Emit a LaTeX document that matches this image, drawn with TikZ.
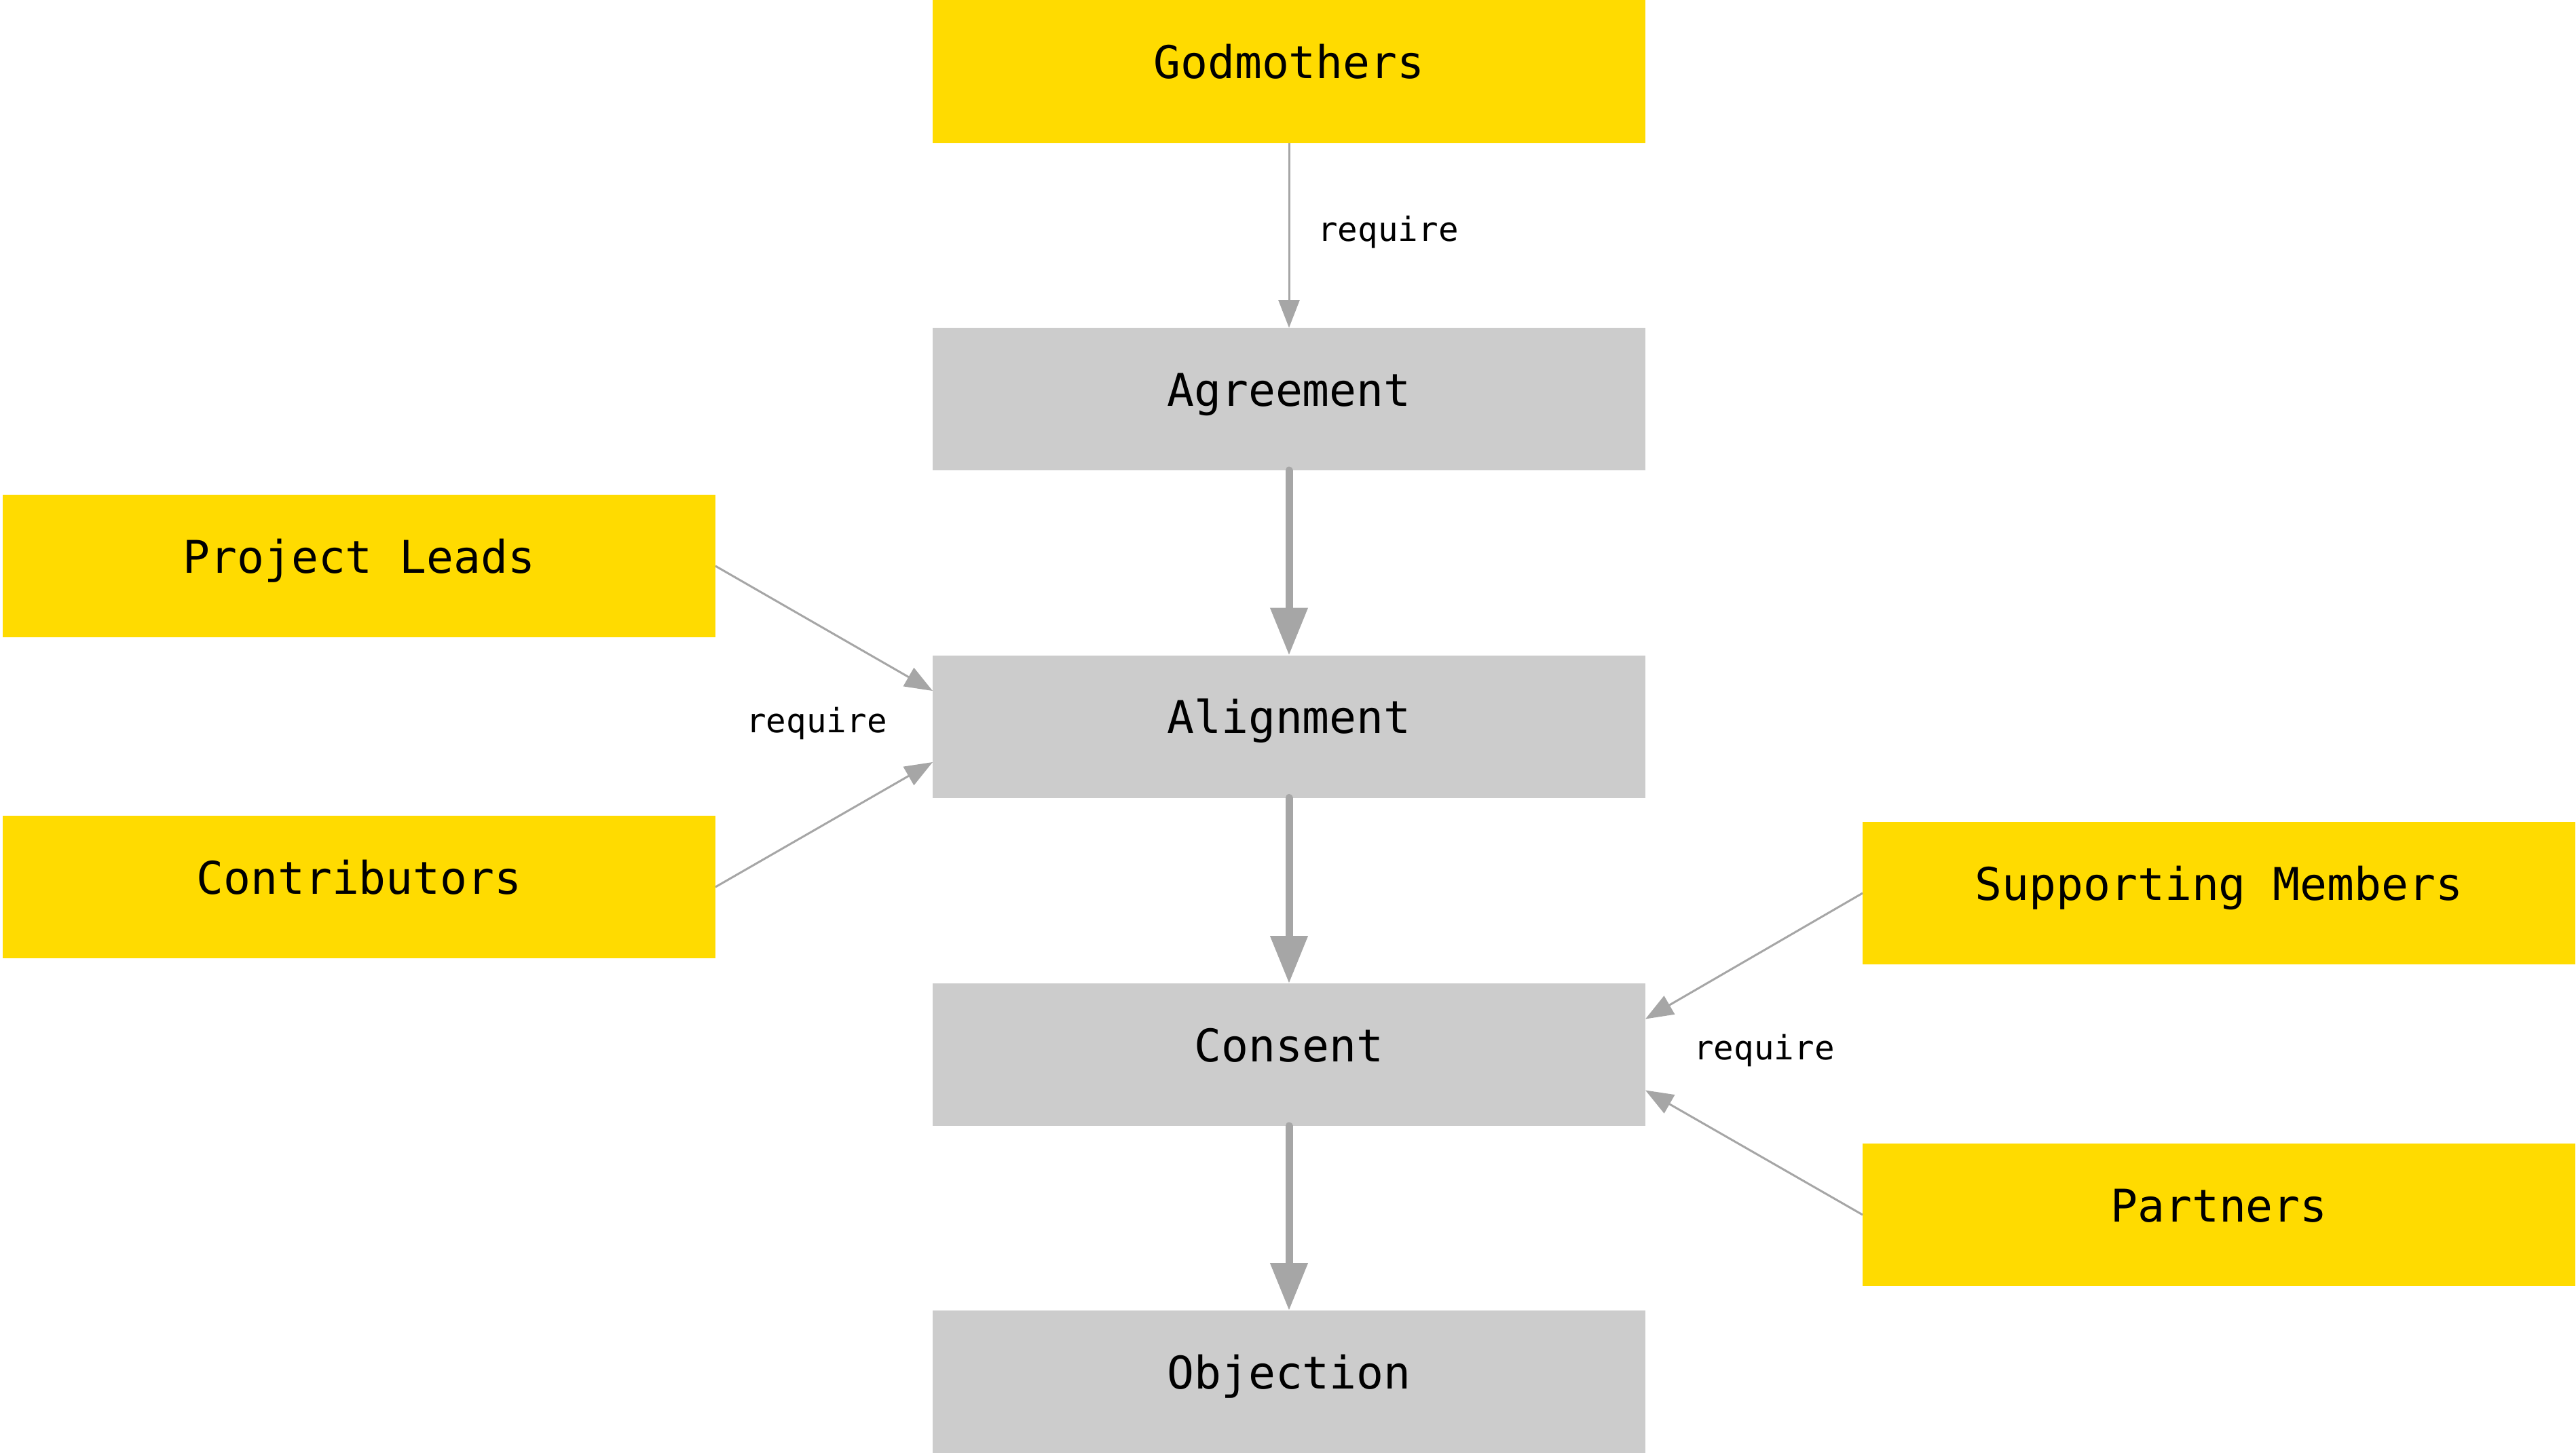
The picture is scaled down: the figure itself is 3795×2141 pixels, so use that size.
\documentclass[tikz,border=0pt]{standalone}
\usepackage{fontspec}
\setmonofont{DejaVu Sans Mono}
\usetikzlibrary{arrows.meta,calc}
\definecolor{boxyellow}{RGB}{255,219,0}
\definecolor{boxgray}{RGB}{204,204,204}
\definecolor{arrowgray}{RGB}{166,166,166}
\begin{document}
\begin{tikzpicture}[x=0.25pt,y=-0.25pt,
  box/.style={rectangle, minimum width=262.5pt, minimum height=52.5pt, inner sep=0pt, outer sep=0pt,
    font=\fontsize{16.6}{20}\selectfont\ttfamily, text height=12pt, text depth=7pt},
  ybox/.style={box, fill=boxyellow},
  gbox/.style={box, fill=boxgray},
  reqarrow/.style={draw=arrowgray, line width=0.75pt, -{Triangle[length=10.25pt,width=7.75pt]}},
  flowarrow/.style={draw=arrowgray, line width=2.75pt, line cap=round, -{Triangle[length=17.5pt,width=13.25pt]}},
  reqlabel/.style={font=\fontsize{12.3}{14}\selectfont\ttfamily, inner sep=0pt, anchor=base}
]
\useasboundingbox (0,0) rectangle (3795,2141);

% central column
\node[ybox] (gm) at (1899,105.5) {Godmothers};
\node[gbox] (ag) at (1899,588) {Agreement};
\node[gbox] (al) at (1899,1070.5) {Alignment};
\node[gbox] (co) at (1899,1554) {Consent};
\node[gbox] (ob) at (1899,2036) {Objection};

% left
\node[ybox] (pl) at (529,834) {Project Leads};
\node[ybox] (ct) at (529,1307) {Contributors};

% right
\node[ybox] (sm) at (3269,1316) {Supporting Members};
\node[ybox] (pa) at (3269,1790) {Partners};

% labels
\node[reqlabel] (lab1) at (2045,355) {require};
\node[reqlabel] (lab2) at (1203,1079) {require};
\node[reqlabel] (lab3) at (2599,1561) {require};

% coordinates on box sides
\coordinate (alw1) at ($(al.north west)!0.25!(al.south west)$);
\coordinate (alw2) at ($(al.north west)!0.75!(al.south west)$);
\coordinate (coe1) at ($(co.north east)!0.25!(co.south east)$);
\coordinate (coe2) at ($(co.north east)!0.75!(co.south east)$);

% connectors
\draw[reqarrow] (gm.south) -- (ag.north);
\draw[flowarrow] (ag.south) -- (al.north);
\draw[flowarrow] (al.south) -- (co.north);
\draw[flowarrow] (co.south) -- (ob.north);
\draw[reqarrow] (pl.east) -- (alw1);
\draw[reqarrow] (ct.east) -- (alw2);
\draw[reqarrow] (sm.west) -- (coe1);
\draw[reqarrow] (pa.west) -- (coe2);
\end{tikzpicture}
\end{document}
